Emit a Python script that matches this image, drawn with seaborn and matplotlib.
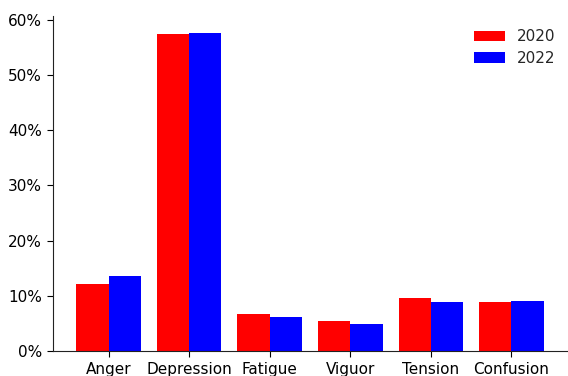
import matplotlib
matplotlib.use("Agg")
import matplotlib.pyplot as plt
import seaborn as sns
import pandas as pd
from matplotlib.ticker import PercentFormatter

categories = ["Anger", "Depression", "Fatigue", "Viguor", "Tension", "Confusion"]
values_2020 = [12.1, 57.5, 6.7, 5.4, 9.6, 8.9]
values_2022 = [13.6, 57.7, 6.1, 4.9, 8.9, 9.0]
years = ["2020", "2022"]

df = pd.DataFrame({
    "category": categories * 2,
    "value": values_2020 + values_2022,
    "year": [years[0]] * len(categories) + [years[1]] * len(categories),
})

sns.set_style("ticks")
plt.rcParams["font.family"] = ["DejaVu Sans"]

fig, ax = plt.subplots(figsize=(5.68, 3.76), dpi=100)
fig.subplots_adjust(left=53/568, right=567/568, top=1-16/376, bottom=1-351/376)

sns.barplot(data=df, x="category", y="value", hue="year",
            palette={"2020": "#ff0000", "2022": "#0000ff"},
            saturation=1, width=0.8, ax=ax, errorbar=None, linewidth=0)

ax.set_xlim(-0.69, len(categories) - 0.31)
ax.set_ylim(0, 60.7)
ax.set_yticks([0, 10, 20, 30, 40, 50, 60])
ax.yaxis.set_major_formatter(PercentFormatter(decimals=0))
ax.set_xlabel("")
ax.set_ylabel("")
ax.tick_params(labelsize=11, colors="black", length=4.5)
ax.tick_params(axis="x", pad=3.5)
for s in ("left", "bottom"):
    ax.spines[s].set_color("#222222")
sns.despine(ax=ax)
ax.legend(title=None, frameon=False, loc="upper right", fontsize=11,
          handlelength=2.0, borderaxespad=0.6, labelspacing=0.45,
          bbox_to_anchor=(1 + 4/514, 1 + 2/335))

fig.savefig("out.png", dpi=100)
